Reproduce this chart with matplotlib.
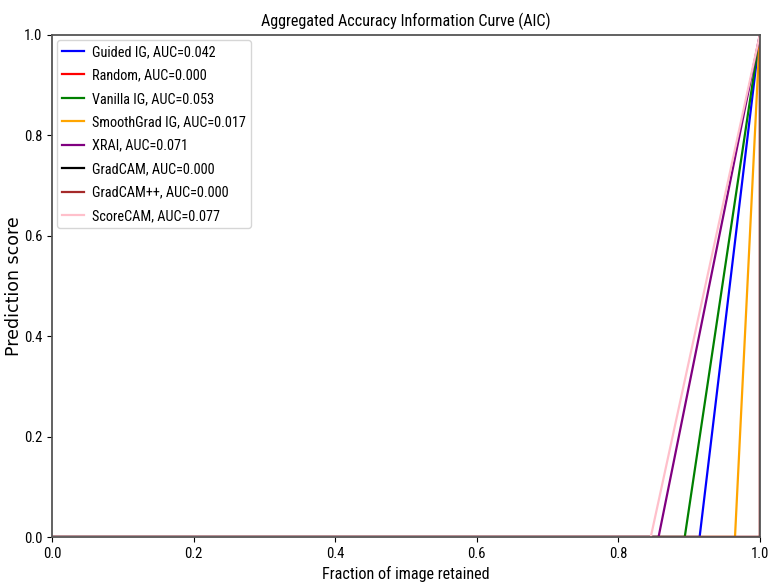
import matplotlib
matplotlib.use("Agg")
import matplotlib.pyplot as plt
from matplotlib import font_manager

names = {f.name for f in font_manager.fontManager.ttflist}
candidates = ["Roboto Condensed", "Fira Sans Condensed", "PT Sans Narrow",
              "IBM Plex Sans Condensed", "Archivo Narrow", "Open Sans Condensed"]
narrow = next((c for c in candidates if c in names), "DejaVu Sans")
plt.rcParams['font.family'] = [narrow, "DejaVu Sans"]
plt.rcParams['font.weight'] = "normal"

methods = ["Guided IG", "Random", "Vanilla IG", "SmoothGrad IG", "XRAI", "GradCAM", "GradCAM++", "ScoreCAM"]
aucs = [0.042, 0.000, 0.053, 0.017, 0.071, 0.000, 0.000, 0.077]
colors = ["blue", "red", "green", "orange", "purple", "black", "brown", "pink"]
# curve breakpoints (fraction retained, prediction score)
xs = [
    [0.0, 0.915, 1.0],
    [0.0, 1.0, 1.0],
    [0.0, 0.894, 1.0],
    [0.0, 0.965, 1.0],
    [0.0, 0.857, 1.0],
    [0.0, 1.0, 1.0],
    [0.0, 1.0, 1.0],
    [0.0, 0.846, 1.0],
]
ys = [
    [0.0, 0.0, 1.0],
    [0.0, 0.0, 1.0],
    [0.0, 0.0, 1.0],
    [0.0, 0.0, 1.0],
    [0.0, 0.0, 1.0],
    [0.0, 0.0, 1.0],
    [0.0, 0.0, 1.0],
    [0.0, 0.0, 1.0],
]

fig = plt.figure(figsize=(7.69, 5.86), dpi=100)
ax = fig.add_axes([0.0676, 0.0836, 0.9204, 0.8567])
for m, a, c, x, y in zip(methods, aucs, colors, xs, ys):
    ax.plot(x, y, color=c, lw=1.6, label=f"{m}, AUC={a:.3f}")
ax.set_xlim(0, 1)
ax.set_ylim(0, 1)
ax.set_title("Aggregated Accuracy Information Curve (AIC)", fontsize=11.6, pad=6)
ax.set_xlabel("Fraction of image retained", fontsize=11.6, labelpad=4)
ax.set_ylabel("Prediction score", fontsize=12.5, family="DejaVu Sans")
ax.yaxis.set_label_coords(-0.041, 0.5)
ax.tick_params(labelsize=10.5)
for s in ax.spines.values():
    s.set_color("#555555")
    s.set_linewidth(1.3)
ax.legend(loc="upper left", fontsize=10.3, handlelength=1.55, handletextpad=0.55,
          labelspacing=0.66, borderaxespad=0.35, borderpad=0.35)
fig.savefig("out.png", dpi=100)
